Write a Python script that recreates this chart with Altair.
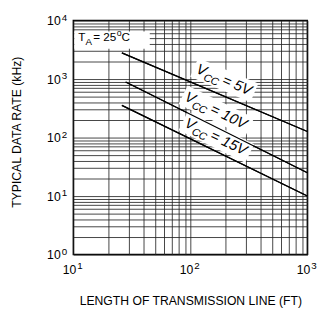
import altair as alt
import pandas as pd

# ---- data ----
series = ["5V", "10V", "15V"]
x_start = [26, 28, 26]
y_start = [2800, 890, 355]
x_end = [1000, 1000, 1000]
y_end = [127, 25, 10]

x_grid = [10, 20, 30, 40, 50, 60, 70, 80, 90,
          100, 200, 300, 400, 500, 600, 700, 800, 900, 1000]
y_grid = [1, 2, 3, 4, 5, 6, 7, 8, 9,
          10, 20, 30, 40, 50, 60, 70, 80, 90,
          100, 200, 300, 400, 500, 600, 700, 800, 900,
          1000, 2000, 3000, 4000, 5000, 6000, 7000, 8000, 9000, 10000]

x_decades = [10, 100, 1000]
x_exps = ["1", "2", "3"]
y_decades = [1, 10, 100, 1000, 10000]
y_exps = ["0", "1", "2", "3", "4"]

label_x = [110, 88, 88]
label_y = [1290, 440, 156]
label_angle = [23, 26, 26]
label_rest = ["= 5V", "= 10V", "= 15V"]
label_box = ["M-0.075,-0.375H1.6V0.15H-0.075Z",
             "M-0.075,-0.375H1.825V0.15H-0.075Z",
             "M-0.075,-0.375H1.825V0.15H-0.075Z"]

ta_box_x = [10.2, 45]
ta_box_y = [3300, 6500]
ta_pos = [11.0, 4467]

FONT = "Liberation Sans"
W, H = 240, 240

# ---- tables ----
lines_df = pd.DataFrame({
    "series": series * 2,
    "x": x_start + x_end,
    "y": y_start + y_end,
})
xlab_df = pd.DataFrame({"x": x_decades, "e": x_exps})
ylab_df = pd.DataFrame({"y": y_decades, "e": y_exps})
lab_df = pd.DataFrame({"x": label_x, "y": label_y, "a": label_angle,
                       "rest": label_rest, "box": label_box})
ta_box_df = pd.DataFrame({"x": [ta_box_x[0]], "x2": [ta_box_x[1]],
                          "y": [ta_box_y[0]], "y2": [ta_box_y[1]]})
ta_df = pd.DataFrame({"x": [ta_pos[0]], "y": [ta_pos[1]]})

xs = alt.Scale(type="log", domain=[10, 1000], nice=False)
ys = alt.Scale(type="log", domain=[1, 10000], nice=False)

x_axis = alt.Axis(values=x_grid, grid=True, labels=False, ticks=False, domain=False,
                  title="LENGTH OF TRANSMISSION LINE (FT)", titleFont=FONT,
                  titleFontSize=12.5, titleFontWeight="normal", titleColor="black",
                  titleY=51, titleBaseline="alphabetic",
                  gridColor="#222222", gridOpacity=0.85, gridWidth=1)
y_axis = alt.Axis(values=y_grid, grid=True, labels=False, ticks=False, domain=False,
                  title="TYPICAL DATA RATE (kHz)", titleFont=FONT,
                  titleFontSize=12.5, titleFontWeight="normal", titleColor="black",
                  titleX=-58, titleY=114, titleAngle=270, titleAlign="center",
                  titleBaseline="middle",
                  gridColor="#222222", gridOpacity=0.85, gridWidth=1)

lines = alt.Chart(lines_df).mark_line(color="black", strokeWidth=1.2).encode(
    x=alt.X("x:Q", scale=xs, axis=x_axis),
    y=alt.Y("y:Q", scale=ys, axis=y_axis),
    detail="series:N",
)

boxes = alt.Chart(lab_df).mark_point(filled=True, fill="white", opacity=1,
                                     strokeWidth=0, size=6400).encode(
    x=alt.X("x:Q", scale=xs),
    y=alt.Y("y:Q", scale=ys),
    shape=alt.Shape("box:N", scale=None),
    angle=alt.Angle("a:Q", scale=None),
)

ta_box = alt.Chart(ta_box_df).mark_rect(fill="white").encode(
    x=alt.X("x:Q", scale=xs), x2="x2:Q",
    y=alt.Y("y:Q", scale=ys), y2="y2:Q",
)

def rot_text(text, dx, dy, size):
    return alt.Chart(lab_df).mark_text(
        align="left", baseline="alphabetic", font=FONT, fontSize=size,
        fontStyle="italic", color="black", dx=dx, dy=dy, text=text
    ).encode(
        x=alt.X("x:Q", scale=xs), y=alt.Y("y:Q", scale=ys),
        angle=alt.Angle("a:Q", scale=None),
    )

v_main = rot_text("V", 0, 0, 15)
v_sub = rot_text("CC", 10, 4, 11)
v_rest = alt.Chart(lab_df).mark_text(
    align="left", baseline="alphabetic", font=FONT, fontSize=15,
    fontStyle="italic", color="black", dx=29, dy=0
).encode(
    x=alt.X("x:Q", scale=xs), y=alt.Y("y:Q", scale=ys),
    angle=alt.Angle("a:Q", scale=None), text="rest:N",
)

def ta_text(text, dx, dy, size):
    return alt.Chart(ta_df).mark_text(
        align="left", baseline="alphabetic", font=FONT, fontSize=size,
        color="black", dx=dx, dy=dy, text=text
    ).encode(x=alt.X("x:Q", scale=xs), y=alt.Y("y:Q", scale=ys))

ta_T = ta_text("T", 0, 0, 12)
ta_A = ta_text("A", 7.5, 4, 10)
ta_25 = ta_text("= 25", 15.5, 0, 12)
ta_o = ta_text("o", 39.5, -5, 9)
ta_C = ta_text("C", 44.5, 0, 12)

xl_main = alt.Chart(xlab_df).mark_text(
    align="right", baseline="alphabetic", font=FONT, fontSize=12.5, color="black",
    dx=3, text="10"
).encode(x=alt.X("x:Q", scale=xs), y=alt.value(H + 20))
xl_exp = alt.Chart(xlab_df).mark_text(
    align="left", baseline="alphabetic", font=FONT, fontSize=10, color="black",
    dx=4
).encode(x=alt.X("x:Q", scale=xs), y=alt.value(H + 15), text="e:N")

yl_main = alt.Chart(ylab_df).mark_text(
    align="right", baseline="alphabetic", font=FONT, fontSize=12.5, color="black",
    dy=5, text="10"
).encode(y=alt.Y("y:Q", scale=ys), x=alt.value(-13))
yl_exp = alt.Chart(ylab_df).mark_text(
    align="left", baseline="alphabetic", font=FONT, fontSize=10, color="black",
    dy=0
).encode(y=alt.Y("y:Q", scale=ys), x=alt.value(-12), text="e:N")

chart = alt.layer(
    lines, ta_box, boxes, lines,
    v_main, v_sub, v_rest,
    ta_T, ta_A, ta_25, ta_o, ta_C,
    xl_main, xl_exp, yl_main, yl_exp,
).properties(
    width=W, height=H,
    autosize=alt.AutoSizeParams(type="none"),
    padding={"left": 67, "top": 9, "right": 14, "bottom": 55},
).configure_view(
    stroke="black", strokeWidth=1.5
)

chart.save("out.html", embed_options={"renderer": "svg", "actions": False})
